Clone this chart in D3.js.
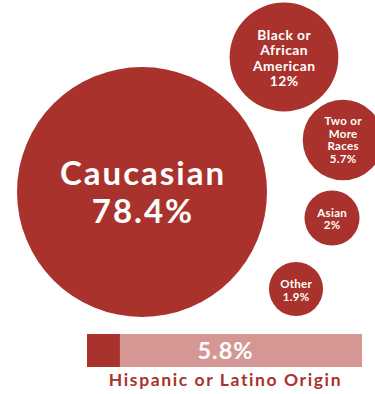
<!DOCTYPE html>
<html><head><meta charset="utf-8">
<script src="https://cdn.jsdelivr.net/npm/d3@7"></script>
<style>html,body{margin:0;padding:0;background:#fff;}svg{display:block;}</style>
</head><body>
<script>
// ---- data ----
const categories = ["Caucasian", "Black or African American", "Two or More Races", "Asian", "Other"];
const values = [78.4, 12, 5.7, 2, 1.9];
const labelLines = [["Caucasian"], ["Black or", "African", "American"], ["Two or", "More", "Races"], ["Asian"], ["Other"]];
const hispanicLabel = "Hispanic or Latino Origin";
const hispanicValue = 5.8;

// ---- layout (positions / styles) ----
const W = 375, H = 394;
const dark = "#a9332c", light = "#d49793";
const font = "Lato, 'Open Sans', sans-serif";
const layout = [
  {cx: 142, cy: 192, fs: 33, lh: 38.5, dy: 0.5, ls: 2},
  {cx: 284, cy: 57,  fs: 13.8, lh: 15.5, dy: 1, ls: 0.5},
  {cx: 343, cy: 140, fs: 11.5, lh: 12.7, dy: 0, ls: 0.3},
  {cx: 332, cy: 218, fs: 11.5, lh: 12, dy: 1, ls: 0.3},
  {cx: 296, cy: 289, fs: 11.5, lh: 13, dy: 1.5, ls: 0.3}
];

const svg = d3.select("body").append("svg").attr("width", W).attr("height", H);

const r = d3.scaleSqrt().domain([0, d3.max(values)]).range([9, 125]);

const nodes = categories.map((c, i) => ({name: c, value: values[i], lines: labelLines[i].concat([values[i] + "%"]), ...layout[i]}));

const g = svg.selectAll("g.bubble").data(nodes).join("g").attr("class", "bubble")
  .attr("transform", d => `translate(${d.cx},${d.cy})`);

g.append("circle").attr("r", d => r(d.value)).attr("fill", dark);

g.each(function(d) {
  const n = d.lines.length;
  const t = d3.select(this).append("text")
    .attr("text-anchor", "middle")
    .attr("fill", "#fff")
    .attr("font-family", font)
    .attr("font-weight", 700)
    .attr("letter-spacing", d.ls)
    .attr("font-size", d.fs);
  d.lines.forEach((l, k) => {
    t.append("tspan").attr("x", d.ls / 2)
      .attr("y", (k - (n - 1) / 2) * d.lh + d.fs * 0.35 + d.dy)
      .text(l);
  });
});

// Hispanic bar
const bx = d3.scaleLinear().domain([0, 48.5]).range([87, 362]);
svg.append("rect").attr("x", bx(0)).attr("y", 334).attr("width", bx(48.5) - bx(0)).attr("height", 33).attr("fill", light);
svg.append("rect").attr("x", bx(0)).attr("y", 334).attr("width", bx(hispanicValue) - bx(0)).attr("height", 33).attr("fill", dark);
svg.append("text").attr("x", (bx(0) + bx(48.5)) / 2 + 1).attr("y", 358.5)
  .attr("text-anchor", "middle").attr("fill", "#fff")
  .attr("font-family", font).attr("font-weight", 700).attr("font-size", 23.5)
  .attr("letter-spacing", 1)
  .text(hispanicValue + "%");
svg.append("text").attr("x", (bx(0) + bx(48.5)) / 2 + 1).attr("y", 386)
  .attr("text-anchor", "middle").attr("fill", dark)
  .attr("font-family", font).attr("font-weight", 700).attr("font-size", 17.5)
  .attr("letter-spacing", 1.6)
  .text(hispanicLabel);
</script>
</body></html>
